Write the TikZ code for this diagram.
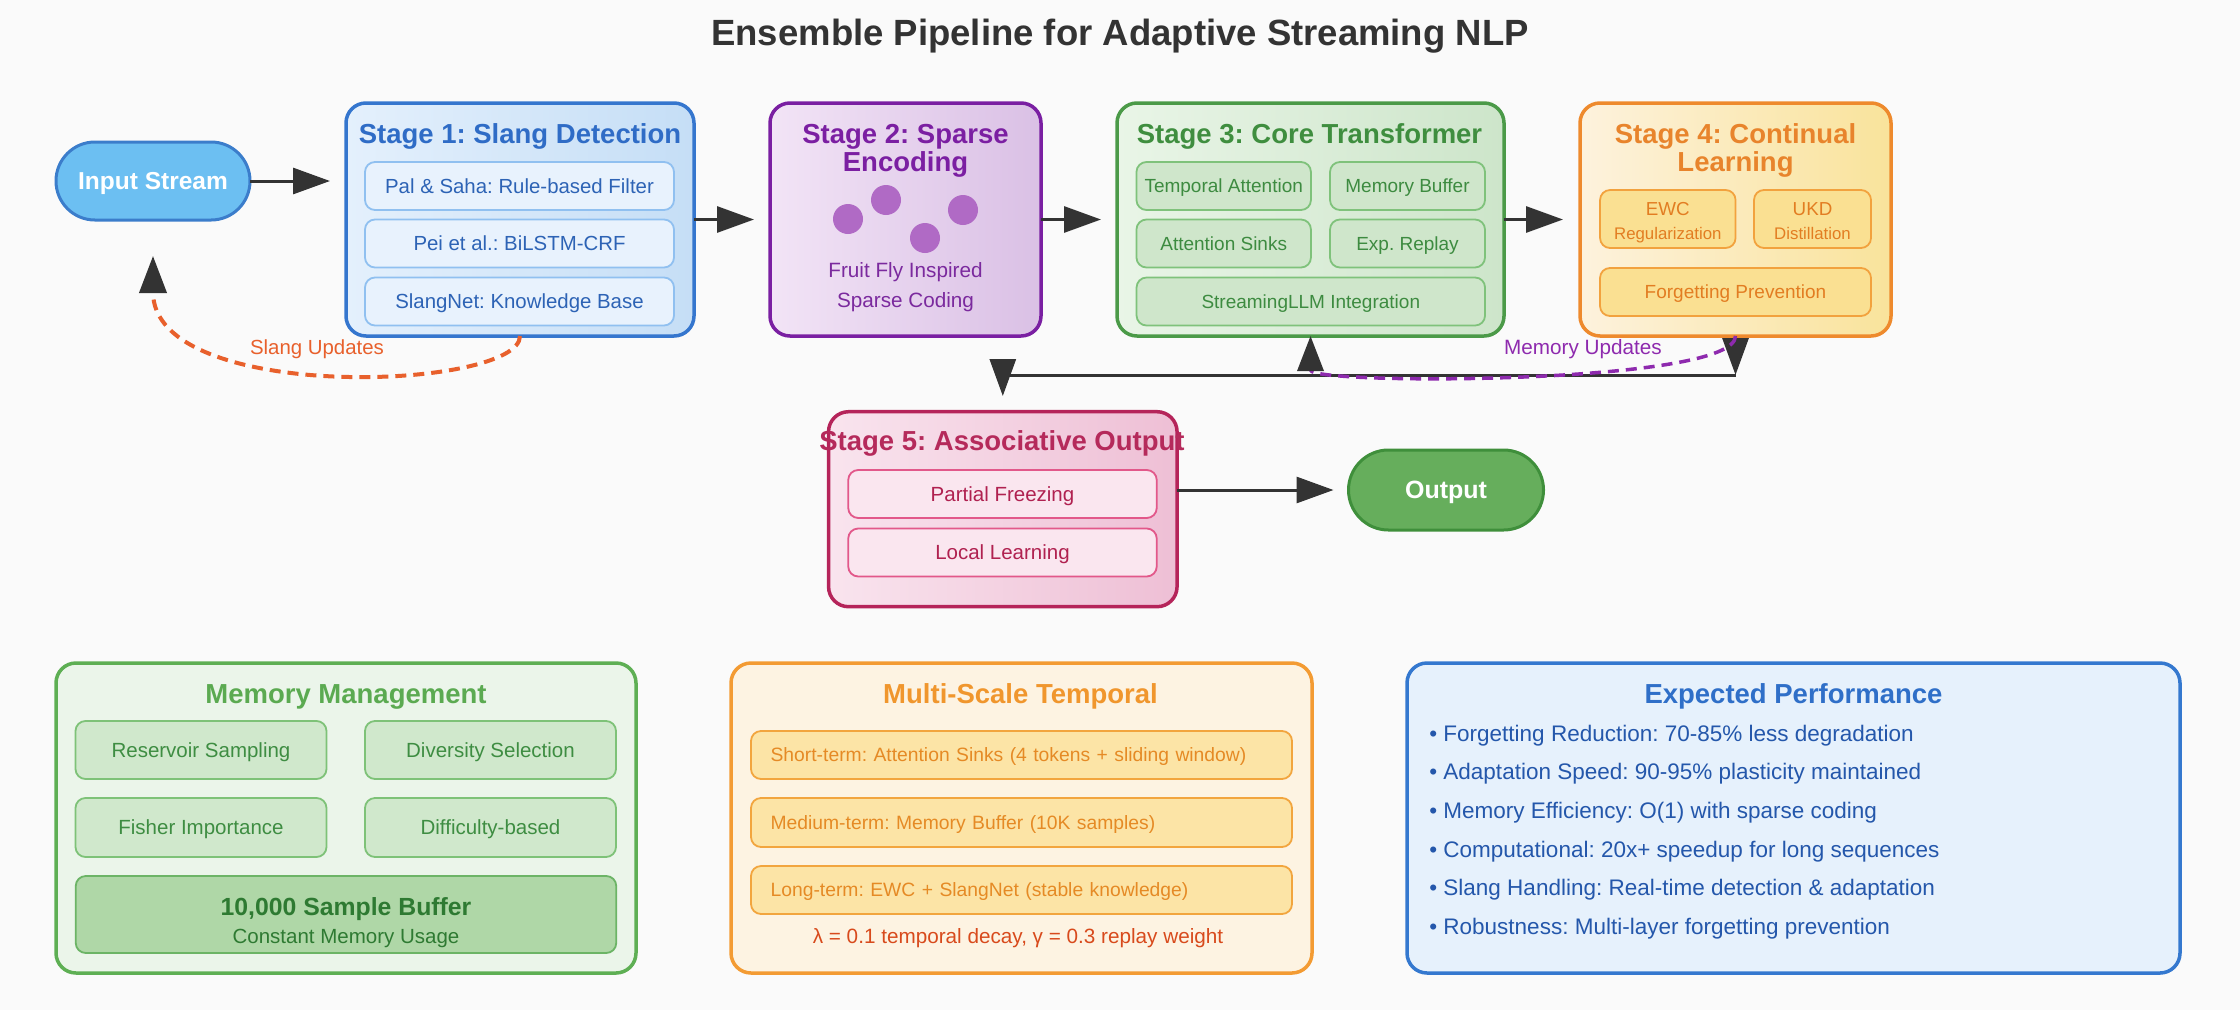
\documentclass[tikz,border=0pt]{standalone}
\usepackage{fontspec}
\setmainfont{Liberation Sans}
\usetikzlibrary{arrows.meta,calc}
\frenchspacing
\newcommand\myfs[2]{\fontsize{#1}{#2}\selectfont}
\definecolor{bg}{HTML}{FAFAFA}
\definecolor{titlegray}{HTML}{333333}
\definecolor{arrowgray}{HTML}{333333}
\definecolor{inFill}{HTML}{6CBFF2}
\definecolor{inDraw}{HTML}{3B7DCB}
\definecolor{sOneL}{HTML}{E4F0FC}
\definecolor{sOneR}{HTML}{C5DEF6}
\definecolor{sOneD}{HTML}{3576CE}
\definecolor{sOneT}{HTML}{2F6CC6}
\definecolor{sOneiF}{HTML}{E8F2FD}
\definecolor{sOneiD}{HTML}{90C0F0}
\definecolor{sOneiT}{HTML}{2D63B5}
\definecolor{sTwoL}{HTML}{F2E4F6}
\definecolor{sTwoR}{HTML}{DAC0E5}
\definecolor{sTwoD}{HTML}{7A1FA2}
\definecolor{sTwoT}{HTML}{7B1FA2}
\definecolor{sTwoDot}{HTML}{B06AC5}
\definecolor{sTwoTxt}{HTML}{7B2A9E}
\definecolor{sThrL}{HTML}{E9F5E7}
\definecolor{sThrR}{HTML}{CDE5CA}
\definecolor{sThrD}{HTML}{4B9A48}
\definecolor{sThrT}{HTML}{3F8E3F}
\definecolor{sThriF}{HTML}{CFE6CB}
\definecolor{sThriD}{HTML}{7FC27B}
\definecolor{sThriT}{HTML}{3D8B40}
\definecolor{sFouL}{HTML}{FDF2DD}
\definecolor{sFouR}{HTML}{F9E39B}
\definecolor{sFouD}{HTML}{EE8A2D}
\definecolor{sFouT}{HTML}{E8842C}
\definecolor{sFouiF}{HTML}{FAE092}
\definecolor{sFouiD}{HTML}{F2A23E}
\definecolor{sFouiT}{HTML}{E27D22}
\definecolor{sFivL}{HTML}{F9E4EE}
\definecolor{sFivR}{HTML}{EEBFD5}
\definecolor{sFivD}{HTML}{B5245A}
\definecolor{sFivT}{HTML}{B52A5B}
\definecolor{sFiviF}{HTML}{FAE6EF}
\definecolor{sFiviD}{HTML}{E2588A}
\definecolor{sFiviT}{HTML}{B02150}
\definecolor{outFill}{HTML}{66AE5C}
\definecolor{outDraw}{HTML}{3F8F3B}
\definecolor{slangC}{HTML}{E8602C}
\definecolor{purp}{HTML}{8E2AAE}
\definecolor{mmF}{HTML}{EBF5EA}
\definecolor{mmD}{HTML}{5EAF54}
\definecolor{mmT}{HTML}{5BAA51}
\definecolor{mmiF}{HTML}{D0E8CC}
\definecolor{mmiD}{HTML}{7EC278}
\definecolor{mmiT}{HTML}{3E8D42}
\definecolor{mmbF}{HTML}{AFD7A7}
\definecolor{mmbD}{HTML}{6CB466}
\definecolor{mmbT}{HTML}{2E7A32}
\definecolor{msF}{HTML}{FDF3E2}
\definecolor{msD}{HTML}{F39B33}
\definecolor{msT}{HTML}{F0962D}
\definecolor{msiF}{HTML}{FCE4A6}
\definecolor{msiD}{HTML}{F2A53E}
\definecolor{msiT}{HTML}{E58A25}
\definecolor{msForm}{HTML}{D84A1C}
\definecolor{epF}{HTML}{E6F1FC}
\definecolor{epD}{HTML}{3478CF}
\definecolor{epT}{HTML}{2F6FC8}
\definecolor{epTxt}{HTML}{2457AB}
\tikzset{
  stagebox/.style={rectangle, rounded corners=20pt, line width=3.5pt, inner sep=0pt},
  itembox/.style={rectangle, rounded corners=10pt, line width=1.8pt, inner sep=0pt},
  panel/.style={rectangle, rounded corners=20pt, line width=3.5pt, inner sep=0pt},
  pill/.style={rectangle, line width=3pt, inner sep=0pt, text=white},
  capc/.style={text height=#1, text depth=0pt},
  stitle/.style={anchor=base, font=\bfseries\myfs{27.5}{30}},
  ptitle/.style={anchor=base, font=\bfseries\myfs{27.5}{30}},
  dot/.style={circle, minimum size=30pt, inner sep=0pt, fill=sTwoDot},
  flow/.style={draw=arrowgray, line width=3pt, -{Triangle[length=37pt,width=26pt]}},
  slangupd/.style={draw=slangC, line width=4pt, dash pattern=on 11pt off 7pt, -{Triangle[length=37pt,width=27pt,color=arrowgray]}},
  memupd/.style={draw=purp, line width=3.5pt, dash pattern=on 11pt off 7pt, -{Triangle[length=35pt,width=26pt,color=arrowgray]}},
  bullet/.style={anchor=base west, font=\myfs{22.5}{26}, text=epTxt},
}
\begin{document}
\frenchspacing
\begin{tikzpicture}[x=1pt,y=-1pt, every node/.append style={outer sep=0pt}]
\fill[bg] (0,0) rectangle (2240,1010);
\useasboundingbox (0,0) rectangle (2240,1010);

% title
\node[anchor=base, font=\bfseries\myfs{36.5}{40}, text=titlegray] (title) at (1120,45) {Ensemble Pipeline for Adaptive Streaming NLP};

% input
\node[pill, rounded corners=38.9pt, fill=inFill, draw=inDraw, minimum width=194pt, minimum height=78pt, font=\bfseries\myfs{24.5}{28}, capc=17.5pt] (in) at (153,181) {Input Stream};

% stage 1
\node[stagebox, left color=sOneL, right color=sOneR, draw=sOneD, minimum width=348pt, minimum height=233pt] (s1) at (520,219.5) {};
\node[stitle, text=sOneT] (s1t) at (520,143) {Stage 1: Slang Detection};
\tikzset{sOneItem/.style={itembox, fill=sOneiF, draw=sOneiD, text=sOneiT, minimum width=309pt, minimum height=48pt, font=\myfs{20.4}{24}, capc=14.6pt}}
\node[sOneItem] (s1a) at (519.5,186) {Pal \& Saha: Rule-based Filter};
\node[sOneItem] (s1b) at (519.5,243.5) {Pei et al.: BiLSTM-CRF};
\node[sOneItem] (s1c) at (519.5,301.5) {SlangNet: Knowledge Base};

% stage 2
\node[stagebox, left color=sTwoL, right color=sTwoR, draw=sTwoD, minimum width=271pt, minimum height=233pt] (s2) at (905.5,219.5) {};
\node[stitle, text=sTwoT] (s2t1) at (905.5,143) {Stage 2: Sparse};
\node[stitle, text=sTwoT] (s2t2) at (905.5,171) {Encoding};
\node[dot] (d1) at (848,219) {};
\node[dot] (d2) at (886,200) {};
\node[dot] (d3) at (925,238) {};
\node[dot] (d4) at (963,210) {};
\node[anchor=base, font=\myfs{20.7}{24}, text=sTwoTxt] (s2x1) at (905.5,277) {Fruit Fly Inspired};
\node[anchor=base, font=\myfs{20.7}{24}, text=sTwoTxt] (s2x2) at (905.5,307) {Sparse Coding};

% stage 3
\node[stagebox, left color=sThrL, right color=sThrR, draw=sThrD, minimum width=387pt, minimum height=233pt] (s3) at (1310.5,219.5) {};
\node[stitle, text=sThrT] (s3t) at (1309.5,143) {Stage 3: Core Transformer};
\tikzset{sThrItem/.style={itembox, fill=sThriF, draw=sThriD, text=sThriT, minimum height=48pt, font=\myfs{19}{22}, capc=13.6pt}}
\node[sThrItem, minimum width=174.5pt] (s3a) at (1223.7,186) {Temporal Attention};
\node[sThrItem, minimum width=155pt] (s3b) at (1407.5,186) {Memory Buffer};
\node[sThrItem, minimum width=174.5pt] (s3c) at (1223.7,243.5) {Attention Sinks};
\node[sThrItem, minimum width=155pt] (s3d) at (1407.5,243.5) {Exp. Replay};
\node[sThrItem, minimum width=348.5pt] (s3e) at (1310.8,301.5) {StreamingLLM Integration};

% stage 4
\node[stagebox, left color=sFouL, right color=sFouR, draw=sFouD, minimum width=311pt, minimum height=233pt] (s4) at (1735.5,219.5) {};
\node[stitle, text=sFouT] (s4t1) at (1735.5,143) {Stage 4: Continual};
\node[stitle, text=sFouT] (s4t2) at (1735.5,171) {Learning};
\tikzset{sFouItem/.style={itembox, fill=sFouiF, draw=sFouiD, text=sFouiT}}
\node[sFouItem, minimum width=135.5pt, minimum height=58pt] (ewc) at (1667.8,219) {};
\node[sFouItem, minimum width=117pt, minimum height=58pt] (ukd) at (1812.5,219) {};
\node[anchor=base, font=\myfs{18.8}{22}, text=sFouiT] (ewcA) at (1667.8,215) {EWC};
\node[anchor=base, font=\myfs{16.8}{20}, text=sFouiT] (ewcB) at (1667.8,239) {Regularization};
\node[anchor=base, font=\myfs{18.8}{22}, text=sFouiT] (ukdA) at (1812.5,215) {UKD};
\node[anchor=base, font=\myfs{16.8}{20}, text=sFouiT] (ukdB) at (1812.5,239) {Distillation};
\node[sFouItem, minimum width=271pt, minimum height=48pt, font=\myfs{19}{22}, capc=13.6pt] (fp) at (1735.5,292) {Forgetting Prevention};

% stage 5
\node[stagebox, left color=sFivL, right color=sFivR, draw=sFivD, minimum width=348.5pt, minimum height=195pt] (s5) at (1002.8,509.2) {};
\node[stitle, text=sFivT] (s5t) at (1002,450) {Stage 5: Associative Output};
\tikzset{sFivItem/.style={itembox, fill=sFiviF, draw=sFiviD, text=sFiviT, minimum width=308.5pt, minimum height=48pt, font=\myfs{20.5}{24}, capc=14.7pt}}
\node[sFivItem] (pf) at (1002.5,494) {Partial Freezing};
\node[sFivItem] (ll) at (1002.5,552.5) {Local Learning};

% output
\node[pill, rounded corners=39.9pt, fill=outFill, draw=outDraw, minimum width=195pt, minimum height=80pt, font=\bfseries\myfs{25}{28}, capc=17.9pt] (out) at (1446,490) {Output};

% main flow arrows
\draw[flow, shorten >=16pt] (in.east) -- (in.east -| s1.west);
\draw[flow, shorten >=16pt] (s1.east) -- (s2.west);
\draw[flow, shorten >=16pt] (s2.east) -- (s3.west);
\draw[flow, shorten >=17pt] (s3.east) -- (s4.west);
\draw[flow, shorten >=15pt] (s5.east |- out.west) -- (out.west);

% feedback
\coordinate (j4) at ($(s4.south)+(0,39)$);
\coordinate (j5) at (s5.north |- j4);
\draw[flow] (s4.south) -- (j4);
\draw[flow] (j4) -- (j5) -- ($(j5)+(0,21)$);
\draw[memupd] (s4.south) .. controls ($(s4.south)+(0,49)$) and ($(s3.south)+(0,49)$) .. (s3.south);
\draw[slangupd] (s1.south) .. controls ($(s1.south)+(0,54)$) and ($(in.south)+(0,185)$) .. ($(in.south)+(0,36)$);
\node[anchor=base, font=\myfs{20.4}{24}, text=slangC] (lslang) at (317,354) {Slang Updates};
\node[anchor=base, font=\myfs{20.7}{24}, text=purp] (lmem) at (1583,354) {Memory Updates};

% memory management panel
\node[panel, fill=mmF, draw=mmD, minimum width=580pt, minimum height=310pt] (mm) at (346,818) {};
\node[ptitle, text=mmT] (mmt) at (346,703) {Memory Management};
\tikzset{mmItem/.style={itembox, fill=mmiF, draw=mmiD, text=mmiT, minimum width=251pt, font=\myfs{20.5}{24}, capc=14.7pt}}
\node[mmItem, minimum height=58pt] (mma) at (201,750) {Reservoir Sampling};
\node[mmItem, minimum height=58pt] (mmb) at (490.5,750) {Diversity Selection};
\node[mmItem, minimum height=59pt] (mmc) at (201,827.5) {Fisher Importance};
\node[mmItem, minimum height=59pt] (mmd) at (490.5,827.5) {Difficulty-based};
\node[itembox, fill=mmbF, draw=mmbD, minimum width=540.5pt, minimum height=77pt] (mme) at (346,914.5) {};
\node[anchor=base, font=\bfseries\myfs{24.8}{28}, text=mmbT] (mmeA) at (346,915) {10,000 Sample Buffer};
\node[anchor=base, font=\myfs{20.5}{24}, text=mmbT] (mmeB) at (346,943) {Constant Memory Usage};

% multi-scale temporal panel
\node[panel, fill=msF, draw=msD, minimum width=581pt, minimum height=310pt] (ms) at (1021.5,818) {};
\node[ptitle, text=msT] (mst) at (1020.5,703) {Multi-Scale Temporal};
\tikzset{msItem/.style={itembox, fill=msiF, draw=msiD, text=msiT, minimum width=541pt, inner xsep=19.6pt, text width=501.8pt, align=left, font=\myfs{19.3}{22}, capc=13.8pt}}
\node[msItem, minimum height=48pt] (msa) at (1021.5,755) {Short-term: Attention Sinks (4 tokens + sliding window)};
\node[msItem, minimum height=49pt] (msb) at (1021.5,822.5) {Medium-term: Memory Buffer (10K samples)};
\node[msItem, minimum height=48pt] (msc) at (1021.5,890) {Long-term: EWC + SlangNet (stable knowledge)};
\node[anchor=base, font=\myfs{20.7}{24}, text=msForm] (msf) at (1018,943) {λ = 0.1 temporal decay, γ = 0.3 replay weight};

% expected performance panel
\node[panel, fill=epF, draw=epD, minimum width=773pt, minimum height=310pt] (ep) at (1793.5,818) {};
\node[ptitle, text=epT] (ept) at (1793.5,703) {Expected Performance};
\node[bullet] (e1) at (1426,741) {• Forgetting Reduction: 70-85\% less degradation};
\node[bullet] (e2) at (1426,779.7) {• Adaptation Speed: 90-95\% plasticity maintained};
\node[bullet] (e3) at (1426,818.4) {• Memory Efficiency: O(1) with sparse coding};
\node[bullet] (e4) at (1426,857.1) {• Computational: 20x+ speedup for long sequences};
\node[bullet] (e5) at (1426,895.8) {• Slang Handling: Real-time detection \& adaptation};
\node[bullet] (e6) at (1426,934.5) {• Robustness: Multi-layer forgetting prevention};
\end{tikzpicture}
\end{document}
